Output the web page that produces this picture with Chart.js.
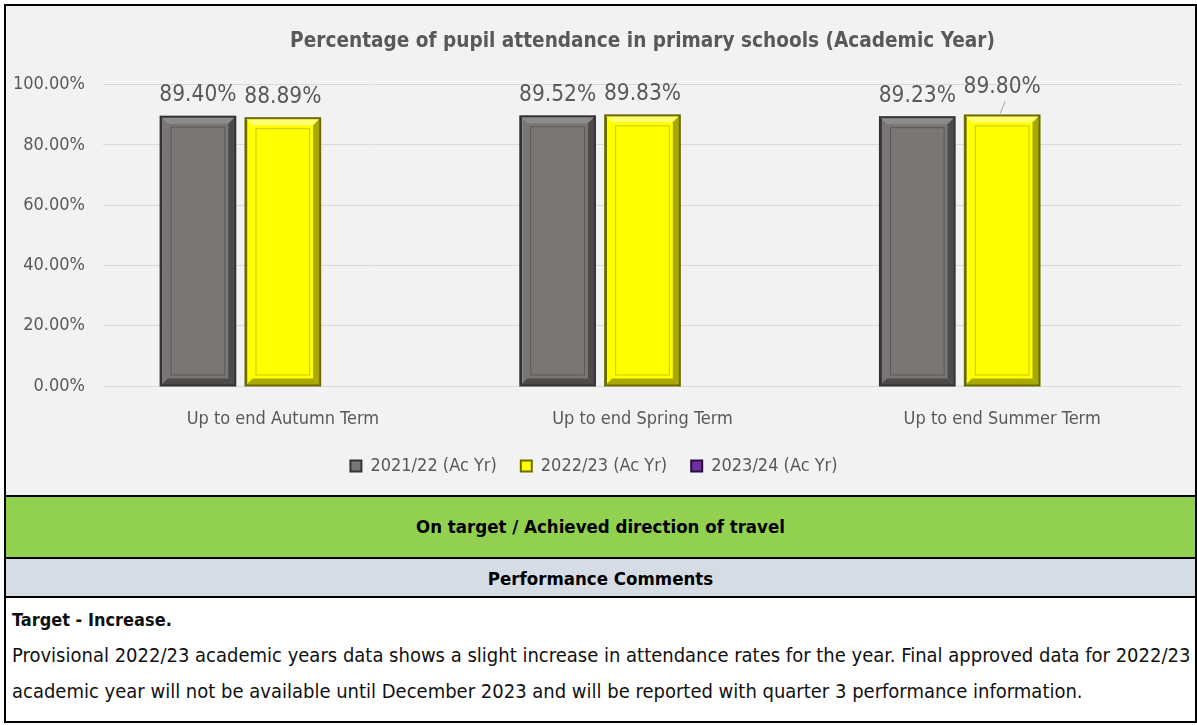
<!DOCTYPE html>
<html>
<head>
<meta charset="utf-8">
<script src="https://cdn.jsdelivr.net/npm/chart.js@4.4.1/dist/chart.umd.min.js"></script>
<style>
  body { margin: 0; background: #fff; font-family: "DejaVu Sans Condensed", "DejaVu Sans", sans-serif; }
  #frame { position: absolute; left: 4px; top: 4px; width: 1189px; height: 715px; border: 2px solid #000; background: #fff; }
  #chartBox { position: absolute; left: 0; top: 0; width: 1189px; height: 489px; overflow: hidden; background: #f2f2f2; }
  #status { position: absolute; left: 0; top: 489px; width: 1189px; height: 60px; border-top: 2px solid #000; background: #92d050;
            font-weight: bold; font-size: 18.5px; text-align: center; line-height: 60px; color: #000; }
  #commentsHead { position: absolute; left: 0; top: 551px; width: 1189px; height: 37px; border-top: 2px solid #000; background: #d6dce4;
            font-weight: bold; font-size: 18.5px; text-align: center; line-height: 40px; color: #000; }
  #comments { position: absolute; left: 0; top: 590px; width: 1189px; height: 125px; border-top: 2px solid #000; background: #fff;
            font-size: 20px; line-height: 36px; color: #111; padding: 5px 0 0 6px; box-sizing: border-box; }
  #comments b { display: block; font-size: 18px; line-height: 34px; }
</style>
</head>
<body>
<div id="frame">
  <div id="chartBox"><canvas id="myChart" width="1189" height="489"></canvas></div>
  <div id="status">On target / Achieved direction of travel</div>
  <div id="commentsHead">Performance Comments</div>
  <div id="comments">
    <b>Target - Increase.</b>
    Provisional 2022/23 academic years data shows a slight increase in attendance rates for the year. Final approved data for 2022/23<br>
    academic year will not be available until December 2023 and will be reported with quarter 3 performance information.
  </div>
</div>
<script>
var FONT = '"DejaVu Sans Condensed", "DejaVu Sans", sans-serif';
var categories = ["Up to end Autumn Term", "Up to end Spring Term", "Up to end Summer Term"];
var seriesNames = ["2021/22 (Ac Yr)", "2022/23 (Ac Yr)", "2023/24 (Ac Yr)"];
var values2122 = [89.40, 89.52, 89.23];
var values2223 = [88.89, 89.83, 89.80];
var values2324 = [null, null, null];
var yTicks = [0, 20, 40, 60, 80, 100];

// fill, border, light edge, dark edge, inner line
var bevel = [
  { fill: '#7a7675', border: '#333333', light: '#8f8b8a', dark: '#4d4b4a', inner: '#5c5958' },
  { fill: '#ffff00', border: '#6b6b00', light: '#ffff70', dark: '#a8a800', inner: '#c9c900' },
  { fill: '#7030a0', border: '#2a0f40', light: '#8a4cc0', dark: '#401860', inner: '#55207a' }
];

var bevelPlugin = {
  id: 'bevel',
  afterDatasetsDraw: function(chart) {
    var c = chart.ctx;
    chart.data.datasets.forEach(function(ds, di) {
      var st = bevel[di];
      chart.getDatasetMeta(di).data.forEach(function(el, i) {
        if (ds.data[i] == null) return;
        var l = el.x - el.width / 2, r = el.x + el.width / 2, t = el.y, b = el.base, s = 7;
        c.save();
        function quad(p, col) {
          c.beginPath(); c.moveTo(p[0], p[1]);
          for (var k = 2; k < p.length; k += 2) c.lineTo(p[k], p[k + 1]);
          c.closePath(); c.fillStyle = col; c.fill();
        }
        quad([l, t, r, t, r - s, t + s, l + s, t + s], st.light);
        quad([r, t, r, b, r - s, b - s, r - s, t + s], st.dark);
        quad([l, b, r, b, r - s, b - s, l + s, b - s], st.dark);
        c.strokeStyle = st.inner; c.lineWidth = 1;
        c.strokeRect(l + s + 3.5, t + s + 3.5, r - l - 2 * s - 7, b - t - 2 * s - 7);
        c.strokeStyle = st.border; c.lineWidth = 2;
        c.strokeRect(l, t, r - l, b - t);
        c.restore();
      });
    });
  }
};

var labelPlugin = {
  id: 'valueLabels',
  afterDatasetsDraw: function(chart) {
    var c = chart.ctx;
    c.save();
    c.font = '22.5px ' + FONT;
    c.fillStyle = '#595959';
    c.textAlign = 'center';
    c.textBaseline = 'middle';
    chart.data.datasets.forEach(function(ds, di) {
      chart.getDatasetMeta(di).data.forEach(function(el, i) {
        var v = ds.data[i];
        if (v == null) return;
        var lift = 21;
        if (di === 1 && i === 2) {
          // this label was dragged up in the source, with a leader line
          lift = 28;
          c.strokeStyle = '#a6a6a6'; c.lineWidth = 1;
          c.beginPath(); c.moveTo(el.x + 3, el.y - 14); c.lineTo(el.x - 2, el.y - 2); c.stroke();
        }
        c.fillText(v.toFixed(2) + '%', el.x, el.y - lift);
      });
    });
    c.restore();
  }
};

Chart.defaults.font.family = FONT;
Chart.defaults.color = '#595959';

var ctx = document.getElementById("myChart");
var myBarChart = new Chart(ctx, {
  type: 'bar',
  data: {
    labels: categories,
    datasets: [
      { label: seriesNames[0], data: values2122, backgroundColor: bevel[0].fill, borderColor: bevel[0].border, borderWidth: 2 },
      { label: seriesNames[1], data: values2223, backgroundColor: bevel[1].fill, borderColor: bevel[1].border, borderWidth: 2 },
      { label: seriesNames[2], data: values2324, backgroundColor: bevel[2].fill, borderColor: bevel[2].border, borderWidth: 2 }
    ]
  },
  plugins: [bevelPlugin, labelPlugin],
  options: {
    responsive: false,
    animation: false,
    categoryPercentage: 0.708,
    barPercentage: 0.88,
    layout: { padding: { left: 0, right: 13, top: 0, bottom: 10 } },
    plugins: {
      title: {
        display: true,
        fullSize: false,
        text: 'Percentage of pupil attendance in primary schools (Academic Year)',
        color: '#595959',
        font: { size: 20.6, weight: 'bold' },
        padding: { top: 23, bottom: 31 }
      },
      legend: {
        position: 'bottom',
        labels: { boxWidth: 11, boxHeight: 11, padding: 24, color: '#595959', font: { size: 18 } }
      },
      tooltip: { enabled: false }
    },
    scales: {
      x: {
        grid: { display: false, drawTicks: false },
        border: { display: false },
        ticks: { padding: 23, color: '#595959', font: { size: 18 } },
        afterFit: function(scale) { scale.height = 47; }
      },
      y: {
        min: 0, max: 100,
        afterBuildTicks: function(scale) { scale.ticks = yTicks.map(function(v) { return { value: v }; }); },
        grid: { color: '#d9d9d9', drawTicks: false },
        border: { display: false },
        ticks: { padding: 18, color: '#595959', font: { size: 18 }, callback: function(v) { return v.toFixed(2) + '%'; } },
        afterFit: function(scale) { scale.width = 97; }
      }
    }
  }
});
</script>
</body>
</html>
